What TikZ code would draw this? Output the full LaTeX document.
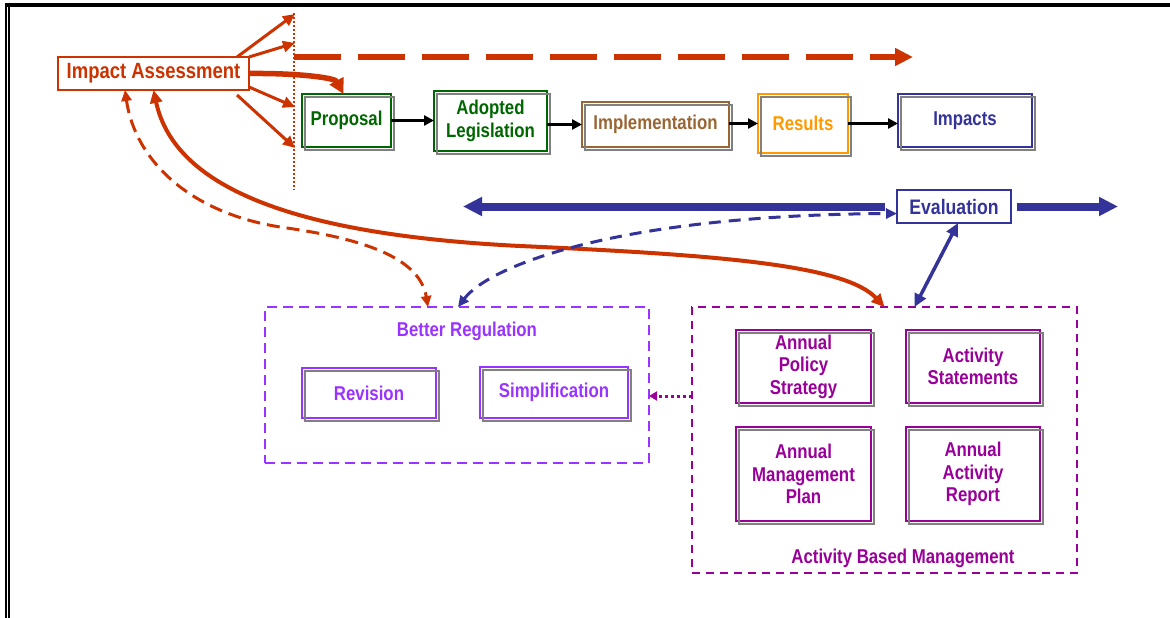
\documentclass[tikz,border=0pt]{standalone}
\usepackage{fontspec}
\newfontfamily\diagfont{Liberation Sans}[FakeStretch=0.84]
\usetikzlibrary{arrows.meta}
\definecolor{iared}{RGB}{204,51,0}
\definecolor{legreen}{RGB}{0,102,0}
\definecolor{impbrown}{RGB}{153,102,51}
\definecolor{resorange}{RGB}{255,153,0}
\definecolor{evblue}{RGB}{51,51,153}
\definecolor{brpurple}{RGB}{153,51,255}
\definecolor{abmmag}{RGB}{153,0,153}
\definecolor{shadowgray}{RGB}{128,128,128}

\begin{document}
\begin{tikzpicture}[x=1pt,y=-1pt,
  every node/.style={font=\diagfont\bfseries\fontsize{20}{22.5}\selectfont,
    inner sep=0pt, outer sep=0pt, align=center},
  sz/.style 2 args={minimum width=#1pt, minimum height=#2pt},
  box/.style={draw=#1, text=#1, line width=2pt, rectangle},
  shadowline/.style={draw=shadowgray, line width=2pt},
  groupbox/.style={draw=#1, line width=2.5pt, dash pattern=on 10pt off 6pt, rectangle},
  flowarr/.style={black, line width=2.6pt, -{Triangle[length=10pt,width=10pt]}},
  redarr/.style={iared, line width=3pt, -{Triangle[length=12pt,width=11pt]}},
  bigblue/.style={evblue, line width=8pt, -{Triangle[length=19pt,width=18pt]}},
]
\useasboundingbox (0,0) rectangle (1170,618);

% page frame
\draw[line width=3.4pt] (5,5) -- (1170,5);
\draw[line width=1.7pt] (5.8,3.3) -- (5.8,618);
\draw[line width=2pt] (9,5) -- (9,618);

% impact assessment
\node[box=iared, line width=1.7pt, sz={191}{33},
  font=\diagfont\bfseries\fontsize{22}{25}\selectfont] (ia) at (153.5,73.5) {Impact Assessment};

% policy cycle
\node[box=legreen, sz={89}{53}] (prop) at (346.5,120.5) {Proposal};
\node[box=legreen, sz={113}{60}] (adopt) at (490.5,121) {Adopted\\Legislation};
\node[box=impbrown, sz={147}{45}] (impl) at (655.5,124.5) {Implementation};
\node[box=resorange, sz={90}{59}] (res) at (803,123.5) {Results};
\node[box=evblue, sz={134}{53}] (imp) at (965,120.5) {Impacts};

% evaluation
\node[box=evblue, line width=1.7pt, sz={114}{33},
  font=\diagfont\bfseries\fontsize{21}{24}\selectfont] (eval) at (954,206.5) {Evaluation};

% better regulation group
\node[groupbox=brpurple, sz={384}{156}] (br) at (457,385) {};
\node[text=brpurple] (brlabel) at (467,331) {Better Regulation};
\node[box=brpurple, sz={134}{50}] (rev) at (369,393) {Revision};
\node[box=brpurple, sz={148}{51}] (simp) at (554,392.5) {Simplification};

% activity based management group
\node[groupbox=abmmag, dash pattern=on 8pt off 6pt, sz={385}{266}] (abm) at (884.5,440) {};
\node[text=abmmag] (abmlabel) at (903,558) {Activity Based Management};
\node[box=abmmag, sz={135}{73}] (aps) at (803.5,366.5) {Annual\\Policy\\Strategy};
\node[box=abmmag, sz={134}{73}] (as) at (973,366.5) {Activity\\Statements};
\node[box=abmmag, sz={135}{94}] (amp) at (803.5,474) {Annual\\Management\\Plan};
\node[box=abmmag, sz={134}{94}] (aar) at (973,474) {Annual\\Activity\\Report};

% offset gray outlines behind the boxes
\foreach \n in {prop,adopt,impl,res,imp,rev,simp,aps,as,amp,aar}
  \draw[shadowline] ([shift={(3pt,-3pt)}]\n.south west) rectangle ([shift={(3pt,-3pt)}]\n.north east);

% flow between the stages
\draw[flowarr] (prop.east) -- (adopt.west |- prop.east);
\draw[flowarr] (adopt.east |- impl.west) -- (impl.west);
\draw[flowarr] (impl.east |- res.west) -- (res.west);
\draw[flowarr] (res.east) -- (imp.west |- res.east);

% time line from impact assessment
\coordinate (vtop) at (294,13);
\coordinate (vbot) at (294,190);
\draw[iared, line width=2pt, dash pattern=on 2pt off 2pt] (vtop) -- (vbot);
\coordinate (dashS) at (294,57);
\coordinate (dashE) at (913,57);
\draw[iared, line width=6pt, dash pattern=on 47pt off 17pt,
  -{Triangle[length=18pt,width=17pt]}] (dashS) -- (dashE);

\coordinate (v1) at (295,14);
\coordinate (v2) at (295,43);
\coordinate (v4) at (295,107);
\coordinate (v5) at (295,148);
\draw[redarr] ([xshift=-12pt]ia.north east) -- (v1);
\draw[redarr] (ia.north east) -- (v2);
\draw[redarr] ([yshift=3pt]ia.south east) -- (v4);
\draw[redarr] ([xshift=-12pt,yshift=-5pt]ia.south east) -- (v5);
\draw[iared, line width=5.5pt, -{Triangle[length=15pt,width=15pt]}]
  (ia.east) .. controls (300,73) and (335,78) .. ([xshift=-3pt]prop.north);

% evaluation arrows
\coordinate (evL) at (463,206.5);
\coordinate (evR) at (1118,206.5);
\draw[bigblue, shorten <=12pt] (eval.west) -- (evL);
\draw[bigblue, shorten <=6pt] (eval.east) -- (evR);

% links between the groups
\draw[iared, line width=4pt,
  {Triangle[length=13pt,width=12pt]}-{Triangle[length=13pt,width=12pt]}]
  (ia.south) .. controls (175,190) and (300,235) .. (520,246)
  .. controls (720,255) and (845,265) .. (abm.north);
\draw[iared, line width=3pt, dash pattern=on 13pt off 7pt,
  {Triangle[length=11pt,width=10pt]}-{Triangle[length=11pt,width=10pt]}]
  ([xshift=-28.5pt]ia.south) .. controls (135,160) and (190,215) .. (287,228)
  .. controls (370,240) and (420,260) .. ([xshift=-29pt]br.north);
\draw[evblue, line width=3pt, dash pattern=on 12pt off 8pt,
  {Triangle[length=11pt,width=10pt]}-{Triangle[length=11pt,width=10pt]}]
  ([xshift=1pt]br.north) .. controls (490,265) and (620,215) .. ([yshift=-7pt]eval.west);
\draw[evblue, line width=3.5pt,
  {Triangle[length=13pt,width=12pt]}-{Triangle[length=13pt,width=12pt]}]
  ([xshift=30pt]abm.north) -- ([xshift=4pt]eval.south);
\draw[abmmag, line width=3pt, dash pattern=on 3pt off 3pt,
  -{Triangle[length=8pt,width=9pt]}]
  ([yshift=44pt]abm.west) -- ([yshift=-11pt]br.east);
\end{tikzpicture}
\end{document}
